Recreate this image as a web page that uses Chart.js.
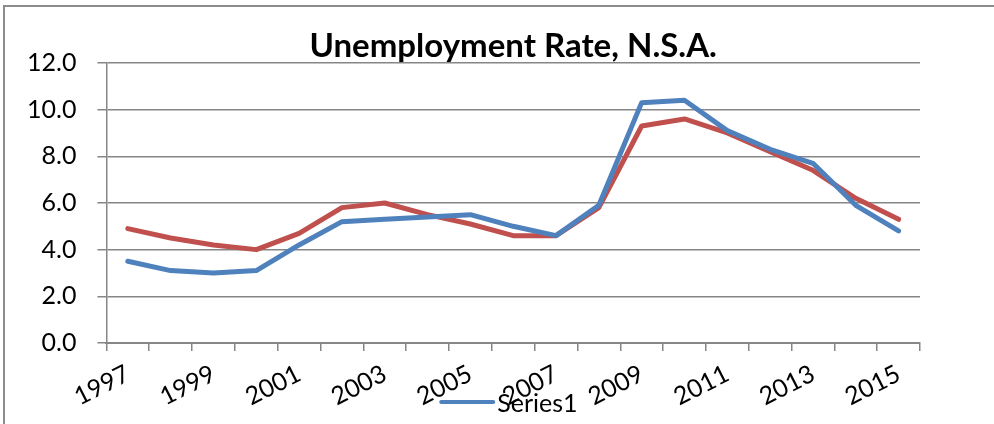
<!DOCTYPE html>
<html>
<head>
<meta charset="utf-8">
<script src="https://cdn.jsdelivr.net/npm/chart.js@4"></script>
<style>
  html, body { margin: 0; padding: 0; background: #fff; }
  #wrap { position: absolute; left: 0; top: 0; width: 994px; height: 424px; }
  #frame { position: absolute; left: 3px; top: 5px; width: 1000px; height: 417px;
           border-left: 2px solid #8c8c8c; border-top: 2px solid #8c8c8c; border-bottom: 1px solid #e0e0e0; }
  canvas { position: absolute; left: 0; top: 0; }
</style>
</head>
<body>
<div id="wrap">
  <div id="frame"></div>
  <canvas id="myChart" width="994" height="424"></canvas>
</div>
<script>
// years on the x axis
const anos = ['1997','1998','1999','2000','2001','2002','2003','2004','2005','2006',
              '2007','2008','2009','2010','2011','2012','2013','2014','2015'];
// blue line (Series1)
const series1 = [3.5, 3.1, 3.0, 3.1, 4.2, 5.2, 5.3, 5.4, 5.5, 5.0,
                 4.6, 5.9, 10.3, 10.4, 9.1, 8.3, 7.7, 5.9, 4.8];
// red line (no legend entry in the original)
const series2 = [4.9, 4.5, 4.2, 4.0, 4.7, 5.8, 6.0, 5.5, 5.1, 4.6,
                 4.6, 5.8, 9.3, 9.6, 9.0, 8.2, 7.4, 6.2, 5.3];
const yTicks = [0, 2, 4, 6, 8, 10, 12];

const fonte = 'Lato';
const cinza = '#868686';

// legend drawn by hand so it can sit over the x labels like the original
const legendaSolta = {
  id: 'legendaSolta',
  afterDraw(chart) {
    const ctx = chart.ctx;
    const ds = chart.data.datasets[0];
    const cx = (chart.chartArea.left + chart.chartArea.right) / 2;
    const y = 402;
    ctx.save();
    ctx.strokeStyle = ds.borderColor;
    ctx.lineWidth = 4;
    ctx.lineCap = 'round';
    ctx.beginPath();
    ctx.moveTo(cx - 72, y);
    ctx.lineTo(cx - 20, y);
    ctx.stroke();
    ctx.fillStyle = '#000';
    ctx.font = '25px ' + fonte;
    ctx.textBaseline = 'middle';
    ctx.fillText(ds.label, cx - 16, y + 2);
    ctx.restore();
  }
};

const ctx = document.getElementById('myChart').getContext('2d');
const myChart = new Chart(ctx, {
  type: 'line',
  data: {
    labels: anos,
    datasets: [
      {
        label: 'Series1',
        data: series1,
        borderColor: '#4F81BD',
        borderWidth: 5,
        pointRadius: 0,
        pointHoverRadius: 0,
        tension: 0,
        borderCapStyle: 'round',
        borderJoinStyle: 'round',
        fill: false,
      },
      {
        label: 'Series2',
        data: series2,
        borderColor: '#C0504D',
        borderWidth: 5,
        pointRadius: 0,
        pointHoverRadius: 0,
        tension: 0,
        borderCapStyle: 'round',
        borderJoinStyle: 'round',
        fill: false,
      }
    ]
  },
  options: {
    responsive: false,
    animation: false,
    layout: { padding: { left: 6, right: 74, top: 0, bottom: 4 } },
    scales: {
      x: {
        offset: true,
        grid: {
          offset: true,
          drawOnChartArea: false,
          drawTicks: true,
          tickLength: 8,
          color: cinza,
          lineWidth: 1.5,
        },
        border: { color: cinza, width: 2 },
        ticks: {
          autoSkip: false,
          maxRotation: 27,
          minRotation: 27,
          padding: 8,
          color: '#000',
          font: { family: fonte, size: 25 },
          callback: function (value, index) {
            return index % 2 === 0 ? this.getLabelForValue(value) : '';
          },
        },
      },
      y: {
        min: 0,
        max: 12,
        afterBuildTicks: (axis) => { axis.ticks = yTicks.map(v => ({ value: v })); },
        grid: {
          color: cinza,
          lineWidth: 1.5,
          tickLength: 9,
        },
        border: { color: cinza, width: 1.5 },
        ticks: {
          padding: 21,
          color: '#000',
          font: { family: fonte, size: 25 },
          callback: (value) => value.toFixed(1),
        },
      },
    },
    plugins: {
      legend: { display: false },
      tooltip: { enabled: false },
      title: {
        display: true,
        fullSize: false,
        text: 'Unemployment Rate, N.S.A.',
        color: '#000',
        font: { family: fonte, size: 33, weight: 'bold', lineHeight: 1.0 },
        padding: { top: 30, bottom: 0 },
      },
    },
  },
  plugins: [legendaSolta],
});
</script>
</body>
</html>
